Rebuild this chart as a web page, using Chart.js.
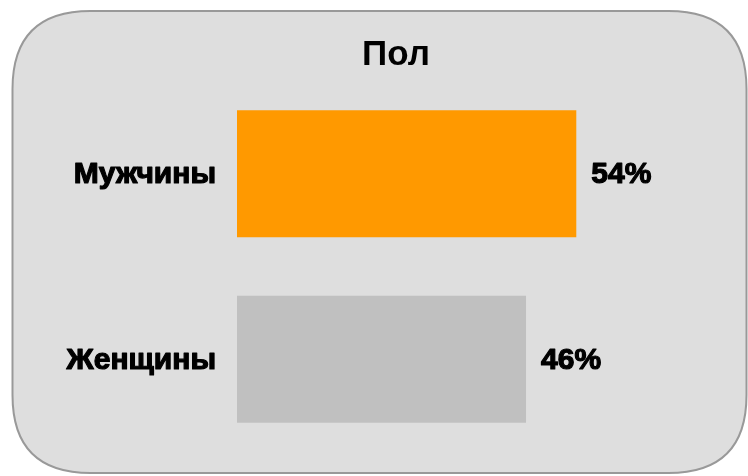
<!DOCTYPE html>
<html>
<head>
<meta charset="utf-8">
<script src="https://cdn.jsdelivr.net/npm/chart.js@4/dist/chart.umd.min.js"></script>
<style>
  html, body { margin: 0; padding: 0; background: #fff; }
  #wrap { width: 748px; height: 476px; }
</style>
</head>
<body>
<div id="wrap"><canvas id="chart" width="748" height="476"></canvas></div>
<script>
// chart data
const chartTitle = 'Пол';
const categories = ['Мужчины', 'Женщины'];
const shares = [54, 46];
const barColors = ['#FF9900', '#C0C0C0'];

const labelFont = 'bold 30px "Liberation Sans", Arial, sans-serif';

// rounded grey panel behind everything + title
const panelPlugin = {
  id: 'panel',
  beforeDraw(chart) {
    const ctx = chart.ctx;
    const x = 12.5, y = 11, w = 734, h = 462, r = 78;
    ctx.save();
    ctx.beginPath();
    ctx.moveTo(x + r, y);
    ctx.lineTo(x + w - r, y);
    ctx.quadraticCurveTo(x + w, y, x + w, y + r);
    ctx.lineTo(x + w, y + h - r);
    ctx.quadraticCurveTo(x + w, y + h, x + w - r, y + h);
    ctx.lineTo(x + r, y + h);
    ctx.quadraticCurveTo(x, y + h, x, y + h - r);
    ctx.lineTo(x, y + r);
    ctx.quadraticCurveTo(x, y, x + r, y);
    ctx.closePath();
    ctx.fillStyle = '#DEDEDE';
    ctx.fill();
    ctx.lineWidth = 2;
    ctx.strokeStyle = '#999999';
    ctx.stroke();

    ctx.fillStyle = '#000';
    ctx.font = 'bold 35px "Liberation Sans", Arial, sans-serif';
    ctx.textAlign = 'center';
    ctx.textBaseline = 'middle';
    ctx.fillText(chartTitle, 396, 55);
    ctx.restore();
  }
};

// category names on the left and percentages after the bars
const labelsPlugin = {
  id: 'barLabels',
  afterDatasetsDraw(chart) {
    const ctx = chart.ctx;
    const meta = chart.getDatasetMeta(0);
    const xScale = chart.scales.x;
    ctx.save();
    ctx.font = labelFont;
    ctx.fillStyle = '#000';
    ctx.strokeStyle = '#000';
    ctx.lineWidth = 1.2;
    ctx.lineJoin = 'round';
    ctx.textBaseline = 'middle';
    meta.data.forEach((bar, i) => {
      const nameX = xScale.getPixelForValue(0) - 21;
      ctx.textAlign = 'right';
      ctx.fillText(categories[i], nameX, bar.y + 1);
      ctx.strokeText(categories[i], nameX, bar.y + 1);
      ctx.textAlign = 'left';
      ctx.fillText(shares[i] + '%', bar.x + 15, bar.y + 1);
      ctx.strokeText(shares[i] + '%', bar.x + 15, bar.y + 1);
    });
    ctx.restore();
  }
};

new Chart(document.getElementById('chart'), {
  type: 'bar',
  data: {
    labels: categories,
    datasets: [{
      data: shares,
      backgroundColor: barColors,
      borderWidth: 0,
      categoryPercentage: 1,
      barPercentage: 0.685
    }]
  },
  options: {
    indexAxis: 'y',
    responsive: false,
    animation: false,
    layout: {
      padding: { left: 237, right: 134, top: 81, bottom: 24 }
    },
    scales: {
      x: { display: false, min: 0, max: 60 },
      y: { display: false }
    },
    plugins: {
      legend: { display: false },
      tooltip: { enabled: false },
      title: { display: false }
    }
  },
  plugins: [panelPlugin, labelsPlugin]
});
</script>
</body>
</html>
